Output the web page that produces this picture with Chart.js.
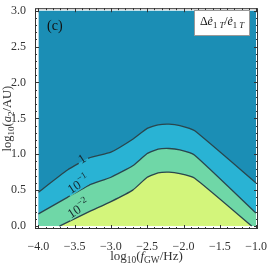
<!DOCTYPE html>
<html>
<head>
<meta charset="utf-8">
<script src="https://cdn.jsdelivr.net/npm/chart.js@4.4.0/dist/chart.umd.min.js"></script>
<style>
  html, body { margin: 0; padding: 0; background: #fff; }
</style>
</head>
<body>
<canvas id="contour" width="270" height="266"></canvas>
<script>
// contour boundaries (log10 f_GW vs log10 a2)
var c1X = [-4.0, -3.6, -3.3, -3.0, -2.7, -2.5, -2.35, -2.2, -2.05, -1.85, -1.0];
var c1Y = [0.47, 0.78, 0.95, 1.03, 1.21, 1.36, 1.41, 1.42, 1.40, 1.33, 0.60];
var c01X = [-4.0, -3.6, -3.3, -3.0, -2.7, -2.5, -2.35, -2.2, -2.05, -1.85, -1.0];
var c01Y = [0.17, 0.40, 0.57, 0.68, 0.84, 1.01, 1.07, 1.08, 1.06, 0.99, 0.18];
var c001X = [-3.71, -3.3, -3.0, -2.7, -2.5, -2.35, -2.2, -2.05, -1.85, -1.06];
var c001Y = [0.0, 0.20, 0.34, 0.50, 0.68, 0.74, 0.75, 0.73, 0.67, 0.0];
var bgX = [-4.0, -1.0];
var bgY = [3.0, 3.0];
var levelLabels = [['1', ''], ['10', '−1'], ['10', '−2']];
var xTicks = [-4.0, -3.5, -3.0, -2.5, -2.0, -1.5, -1.0];
var yTicks = [0.0, 0.5, 1.0, 1.5, 2.0, 2.5, 3.0];

var serif = '"Liberation Serif", "DejaVu Serif", serif';
var inkColor = '#2a464d';
// where the level labels sit, in data units, and their tilt
var labelSpots = [[-3.40, 0.94], [-3.45, 0.585], [-3.45, 0.245]];
var labelTilt = -33 * Math.PI / 180;

function pts(xs, ys) {
    return xs.map(function (x, i) { return {x: x, y: ys[i]}; });
}

function partFont(p, size) {
    var s = (p.sub || p.sup) ? size * 0.72 : size;
    return (p.it ? 'italic ' : '') + s + 'px ' + serif;
}

function richWidth(ctx, parts, size) {
    return parts.reduce(function (w, p) {
        ctx.font = partFont(p, size);
        return w + ctx.measureText(p.t).width;
    }, 0);
}

// draws a run of text pieces (italic / sub / sup) starting at x
function richText(ctx, parts, x, y, size, align) {
    var cx = align === 'center' ? x - richWidth(ctx, parts, size) / 2 : x;
    parts.forEach(function (p) {
        ctx.font = partFont(p, size);
        var dy = p.sub ? size * 0.28 : (p.sup ? -size * 0.38 : 0);
        ctx.fillText(p.t, cx, y + dy);
        cx += ctx.measureText(p.t).width;
    });
}

function labelParts(lab) {
    return [{t: lab[0]}, {t: lab[1], sup: true}];
}

// leaves a gap in the contour lines where the level labels go
var gapPlugin = {
    id: 'gaps',
    beforeDatasetDraw: function (chart, args) {
        if (args.index > 2) return;
        var ctx = chart.ctx, xs = chart.scales.x, ys = chart.scales.y;
        ctx.save();
        ctx.beginPath();
        ctx.rect(0, 0, chart.width, chart.height);
        levelLabels.forEach(function (lab, i) {
            var w = richWidth(ctx, labelParts(lab), 13) + 4, h = 12;
            var cx = xs.getPixelForValue(labelSpots[i][0]);
            var cy = ys.getPixelForValue(labelSpots[i][1]);
            var c = Math.cos(labelTilt), s = Math.sin(labelTilt);
            var corners = [[-w / 2, -h / 2], [-w / 2, h / 2], [w / 2, h / 2], [w / 2, -h / 2]];
            corners.forEach(function (q, k) {
                var px = cx + q[0] * c - q[1] * s, py = cy + q[0] * s + q[1] * c;
                if (k === 0) ctx.moveTo(px, py); else ctx.lineTo(px, py);
            });
            ctx.closePath();
        });
        ctx.clip('evenodd');
    },
    afterDatasetDraw: function (chart, args) {
        if (args.index > 2) return;
        chart.ctx.restore();
    }
};

var framePlugin = {
    id: 'frame',
    afterDraw: function (chart) {
        var ctx = chart.ctx, a = chart.chartArea;
        var xs = chart.scales.x, ys = chart.scales.y;
        ctx.save();
        ctx.strokeStyle = '#333';
        ctx.lineWidth = 1;
        ctx.strokeRect(a.left + 0.5, a.top + 0.5, a.right - a.left - 1, a.bottom - a.top - 1);
        ctx.beginPath();
        for (var k = 0; k <= 30; k++) {
            var len = k % 5 === 0 ? 4 : 2;
            var px = Math.round(xs.getPixelForValue(-4 + k * 0.1)) + 0.5;
            ctx.moveTo(px, a.bottom); ctx.lineTo(px, a.bottom - len);
            ctx.moveTo(px, a.top); ctx.lineTo(px, a.top + len);
            var py = Math.round(ys.getPixelForValue(k * 0.1)) + 0.5;
            ctx.moveTo(a.left, py); ctx.lineTo(a.left + len, py);
            ctx.moveTo(a.right, py); ctx.lineTo(a.right - len, py);
        }
        ctx.stroke();

        // contour labels
        ctx.fillStyle = '#16262b';
        ctx.textBaseline = 'middle';
        levelLabels.forEach(function (lab, i) {
            ctx.save();
            ctx.translate(xs.getPixelForValue(labelSpots[i][0]), ys.getPixelForValue(labelSpots[i][1]));
            ctx.rotate(labelTilt);
            richText(ctx, labelParts(lab), 0, 1, 13, 'center');
            ctx.restore();
        });

        // panel tag
        ctx.fillStyle = '#111';
        ctx.textAlign = 'left';
        ctx.font = '14px ' + serif;
        ctx.fillText('(c)', 47, 26);

        // legend box
        ctx.fillStyle = '#fff';
        ctx.fillRect(194.5, 10.5, 55, 25);
        ctx.strokeStyle = '#999';
        ctx.strokeRect(194.5, 10.5, 55, 25);
        ctx.fillStyle = '#111';
        richText(ctx, [
            {t: 'Δ'}, {t: 'ė', it: true}, {t: '1 ', sub: true}, {t: 'T', sub: true, it: true},
            {t: '/'}, {t: 'ė', it: true}, {t: '1 ', sub: true}, {t: 'T', sub: true, it: true}
        ], 222, 22, 12, 'center');

        // axis titles
        ctx.fillStyle = '#333';
        richText(ctx, [
            {t: 'log'}, {t: '10', sub: true}, {t: '('}, {t: 'f', it: true},
            {t: 'GW', sub: true}, {t: '/Hz)'}
        ], (a.left + a.right) / 2, 257, 13, 'center');
        ctx.save();
        ctx.translate(8, (a.top + a.bottom) / 2);
        ctx.rotate(-Math.PI / 2);
        richText(ctx, [
            {t: 'log'}, {t: '10', sub: true}, {t: '('}, {t: 'a', it: true},
            {t: '2', sub: true}, {t: '/AU)'}
        ], 0, 0, 12.5, 'center');
        ctx.restore();
        ctx.restore();
    }
};

function fmt(v) {
    return (v < 0 ? '−' : '') + Math.abs(v).toFixed(1);
}

var ctx = document.getElementById('contour').getContext('2d');
var myChart = new Chart(ctx, {
    type: 'line',
    data: {
        datasets: [{
            data: pts(c001X, c001Y),
            borderColor: inkColor, borderWidth: 1.3,
            backgroundColor: '#d3f57b', fill: {value: 0}
        }, {
            data: pts(c01X, c01Y),
            borderColor: inkColor, borderWidth: 1.3,
            backgroundColor: '#6fd7a7', fill: {value: 0}
        }, {
            data: pts(c1X, c1Y),
            borderColor: inkColor, borderWidth: 1.3,
            backgroundColor: '#29b3d4', fill: {value: 0}
        }, {
            data: pts(bgX, bgY),
            borderWidth: 0,
            backgroundColor: '#1b8eb5', fill: {value: 0}
        }]
    },
    options: {
        responsive: false,
        animation: false,
        layout: {padding: {left: 0, right: 7, top: 3, bottom: 0}},
        elements: {point: {radius: 0}, line: {tension: 0.15}},
        plugins: {legend: {display: false}, tooltip: {enabled: false}},
        scales: {
            x: {
                type: 'linear', min: -4.047, max: -0.973,
                afterBuildTicks: function (s) { s.ticks = xTicks.map(function (v) { return {value: v}; }); },
                afterFit: function (s) { s.height = 37; },
                grid: {display: false},
                border: {display: false},
                ticks: {
                    padding: 3, maxRotation: 0, color: '#333',
                    font: {family: serif, size: 12},
                    callback: fmt
                }
            },
            y: {
                type: 'linear', min: -0.041, max: 3.034,
                afterBuildTicks: function (s) { s.ticks = yTicks.map(function (v) { return {value: v}; }); },
                afterFit: function (s) { s.width = 35; },
                grid: {display: false},
                border: {display: false},
                ticks: {
                    padding: 1, color: '#333',
                    font: {family: serif, size: 12},
                    callback: fmt
                }
            }
        }
    },
    plugins: [gapPlugin, framePlugin]
});
</script>
</body>
</html>
